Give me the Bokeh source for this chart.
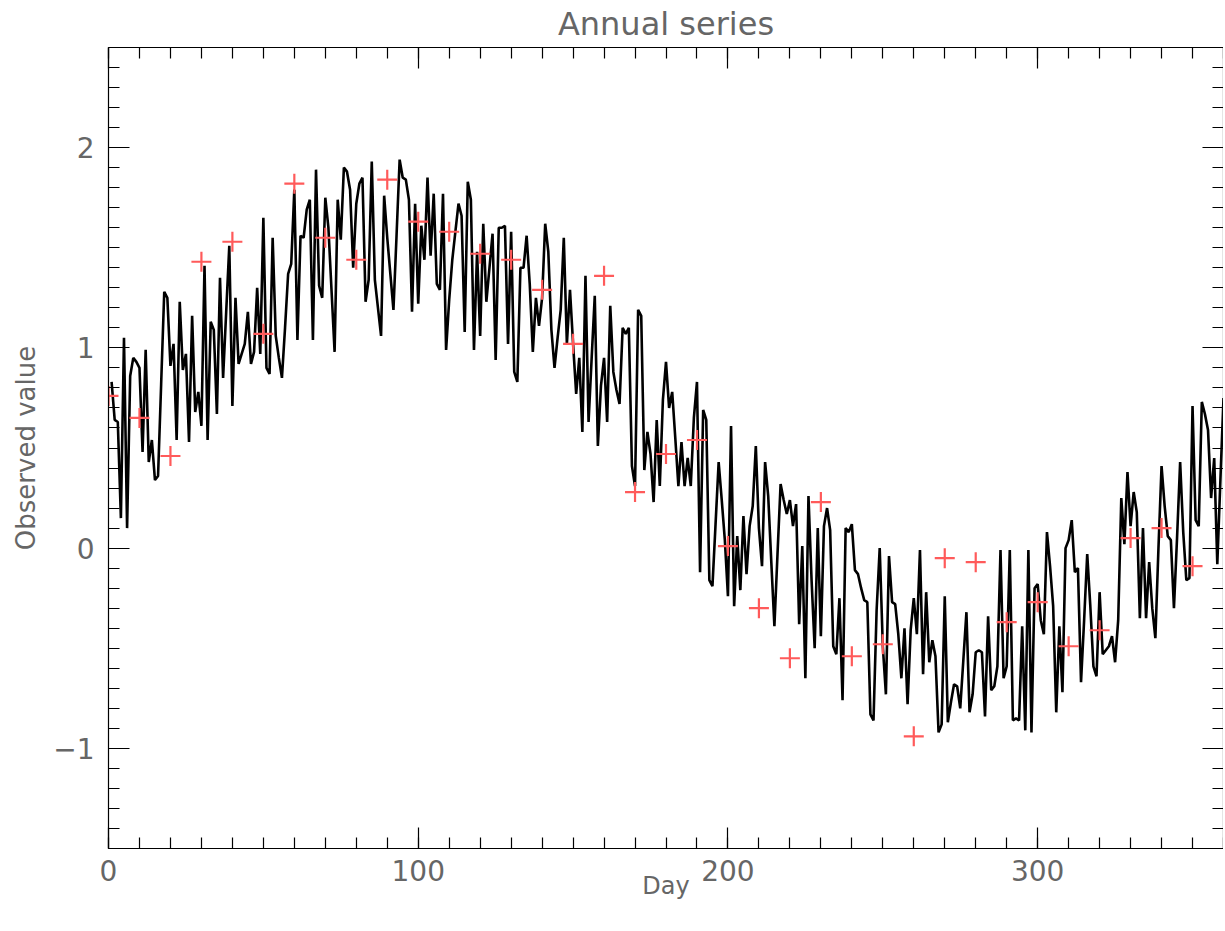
from bokeh.plotting import figure
from bokeh.models import LinearAxis, FixedTicker, ColumnDataSource
from bokeh.embed import file_html
from bokeh.resources import INLINE
import numpy as np

# daily observed values, day 1..361
values = [
    0.83, 0.64, 0.63, 0.15, 1.05, 0.10, 0.86, 0.95, 0.93, 0.90,
    0.48, 0.99, 0.43, 0.54, 0.34, 0.36, 0.82, 1.28, 1.25, 0.91,
    1.02, 0.54, 1.23, 0.89, 0.97, 0.53, 1.16, 0.68, 0.78, 0.61,
    1.41, 0.54, 1.13, 1.09, 0.67, 1.35, 0.85, 1.18, 1.51, 0.71,
    1.25, 0.92, 0.97, 1.02, 1.18, 0.92, 0.98, 1.30, 0.97, 1.65,
    0.90, 0.87, 1.55, 1.06, 0.95, 0.85, 1.10, 1.37, 1.42, 1.79,
    1.04, 1.56, 1.55, 1.69, 1.74, 1.04, 1.89, 1.31, 1.25, 1.75,
    1.60, 1.29, 0.98, 1.74, 1.54, 1.90, 1.88, 1.79, 1.40, 1.72,
    1.82, 1.85, 1.23, 1.34, 1.93, 1.34, 1.20, 1.06, 1.76, 1.55,
    1.37, 1.19, 1.56, 1.94, 1.85, 1.84, 1.74, 1.18, 1.72, 1.22,
    1.61, 1.44, 1.85, 1.46, 1.77, 1.32, 1.29, 1.77, 0.99, 1.24,
    1.44, 1.58, 1.72, 1.66, 1.08, 1.83, 1.74, 0.99, 1.48, 1.06,
    1.62, 1.23, 1.40, 1.57, 0.94, 1.60, 1.60, 1.61, 1.02, 1.58,
    0.88, 0.83, 1.40, 1.40, 1.56, 1.32, 0.98, 1.25, 1.11, 1.25,
    1.62, 1.48, 1.09, 0.90, 1.05, 1.19, 1.55, 1.02, 1.29, 1.02,
    0.77, 0.95, 0.58, 1.36, 0.63, 0.95, 1.26, 0.51, 0.81, 0.95,
    0.63, 1.21, 0.88, 0.79, 0.72, 1.10, 1.07, 1.10, 0.41, 0.31,
    1.19, 1.16, 0.39, 0.58, 0.47, 0.23, 0.64, 0.31, 0.74, 0.93,
    0.70, 0.78, 0.55, 0.31, 0.53, 0.31, 0.45, 0.31, 0.65, 0.83,
    -0.12, 0.69, 0.64, -0.16, -0.19, 0.12, 0.43, 0.24, 0.04, -0.24,
    0.61, -0.29, 0.06, -0.21, 0.16, -0.13, 0.11, 0.21, 0.51, 0.10,
    -0.09, 0.43, 0.26, -0.07, -0.39, -0.03, 0.32, 0.24, 0.17, 0.24,
    0.11, 0.22, -0.38, 0.01, -0.65, 0.26, -0.16, -0.50, 0.10, -0.44,
    0.11, 0.20, 0.09, -0.49, -0.53, -0.25, -0.76, 0.10, 0.08, 0.12,
    -0.11, -0.13, -0.20, -0.26, -0.27, -0.83, -0.86, -0.31, 0.00, -0.49,
    -0.73, -0.04, -0.27, -0.28, -0.43, -0.65, -0.40, -0.78, -0.41, -0.25,
    -0.43, -0.01, -0.63, -0.22, -0.57, -0.46, -0.54, -0.92, -0.88, -0.24,
    -0.87, -0.77, -0.68, -0.69, -0.80, -0.56, -0.32, -0.82, -0.73, -0.52,
    -0.51, -0.52, -0.84, -0.34, -0.71, -0.69, -0.59, -0.01, -0.65, -0.59,
    -0.01, -0.86, -0.85, -0.86, -0.39, -0.91, -0.01, -0.92, -0.20, -0.18,
    -0.36, -0.43, 0.08, -0.09, -0.29, -0.82, -0.39, -0.72, 0.00, 0.04,
    0.14, -0.12, -0.10, -0.67, -0.36, -0.03, -0.29, -0.59, -0.64, -0.22,
    -0.53, -0.51, -0.49, -0.44, -0.57, -0.36, 0.25, 0.02, 0.38, 0.11,
    0.28, 0.18, -0.35, 0.10, -0.35, -0.07, -0.30, -0.45, 0.00, 0.41,
    0.21, 0.06, 0.04, -0.30, 0.05, 0.43, 0.08, -0.16, -0.15, 0.71,
    0.14, 0.11, 0.73, 0.67, 0.59, 0.25, 0.45, -0.08, 0.34, 0.75,
    0.51,
]
days = list(range(1, len(values) + 1))

# sampled observations every 10 days
sample_days = [0, 10, 20, 30, 40, 50, 60, 70, 80, 90, 100, 110, 120, 130, 140, 150,
               160, 170, 180, 190, 200, 210, 220, 230, 240, 250, 260, 270, 280, 290,
               300, 310, 320, 330, 340, 350]
sample_values = [0.76, 0.65, 0.46, 1.43, 1.53, 1.07, 1.82, 1.55, 1.44, 1.84, 1.63, 1.58,
                 1.47, 1.44, 1.29, 1.02, 1.36, 0.28, 0.47, 0.54, 0.01, -0.30, -0.55, 0.23,
                 -0.54, -0.48, -0.94, -0.05, -0.07, -0.37, -0.27, -0.49, -0.41, 0.05,
                 0.10, -0.09]

x_major = [0, 100, 200, 300]
y_major = [-1, 0, 1, 2]
y_labels = {-1: "\u22121", 0: "0", 1: "1", 2: "2"}
title_text = "Annual series"

FONT = "DejaVu Sans"
TXT = "#666666"
X0, X1, Y0, Y1 = 0, 360, -1.5, 2.5

p = figure(width=1223, height=915, x_range=(X0, X1), y_range=(Y0, Y1),
           output_backend="svg", toolbar_location=None, title=title_text,
           x_axis_label="Day", y_axis_label="Observed value",
           min_border_left=108, min_border_right=0, min_border_top=47, min_border_bottom=67)
p.grid.visible = False
p.outline_line_color = None
p.background_fill_color = "white"
p.border_fill_color = "white"

p.title.align = "center"
p.title.vertical_align = "top"
p.title.text_font = FONT
p.title.text_font_size = "32px"
p.title.text_font_style = "normal"
p.title.text_color = TXT
p.title.standoff = 6

x_minor = list(np.arange(X0, X1 + 1, 10))
y_minor = [round(v, 2) for v in np.arange(Y0, Y1 + 0.001, 0.1)]

def style(ax, ticks, minor, labels):
    ax.ticker = FixedTicker(ticks=ticks, minor_ticks=minor)
    ax.axis_line_color = "black"
    ax.axis_line_width = 1.2
    ax.major_tick_line_color = "black"
    ax.minor_tick_line_color = "black"
    ax.major_tick_line_width = 1.2
    ax.minor_tick_line_width = 1.2
    ax.major_tick_in = 21
    ax.major_tick_out = 0
    ax.minor_tick_in = 11
    ax.minor_tick_out = 0
    if labels:
        ax.major_label_text_font = FONT
        ax.major_label_text_font_size = "28px"
        ax.major_label_text_color = TXT
        ax.axis_label_text_font = FONT
        ax.axis_label_text_font_style = "normal"
        ax.axis_label_text_color = TXT
    else:
        ax.major_label_text_font_size = "1px"
        ax.major_label_text_color = None
        ax.major_label_standoff = 0
        ax.axis_label = None

style(p.xaxis[0], x_major, x_minor, True)
style(p.yaxis[0], y_major, y_minor, True)
p.yaxis[0].major_label_overrides = y_labels
p.xaxis[0].axis_label_text_font_size = "24px"
p.yaxis[0].axis_label_text_font_size = "26px"
p.xaxis[0].major_label_standoff = 11
p.yaxis[0].major_label_standoff = 14
p.xaxis[0].axis_label_standoff = -12
p.yaxis[0].axis_label_standoff = 9

top = LinearAxis()
right = LinearAxis()
style(top, x_major, x_minor, False)
style(right, y_major, y_minor, False)
p.add_layout(top, "above")
p.add_layout(right, "right")

src = ColumnDataSource(dict(x=days, y=values))
p.line("x", "y", source=src, line_color="black", line_width=2.6)

src2 = ColumnDataSource(dict(x=sample_days, y=sample_values))
p.scatter("x", "y", source=src2, marker="cross", size=20, line_color="#ff5a5a", line_width=2.2)

open("out.html", "w").write(file_html(p, INLINE))
